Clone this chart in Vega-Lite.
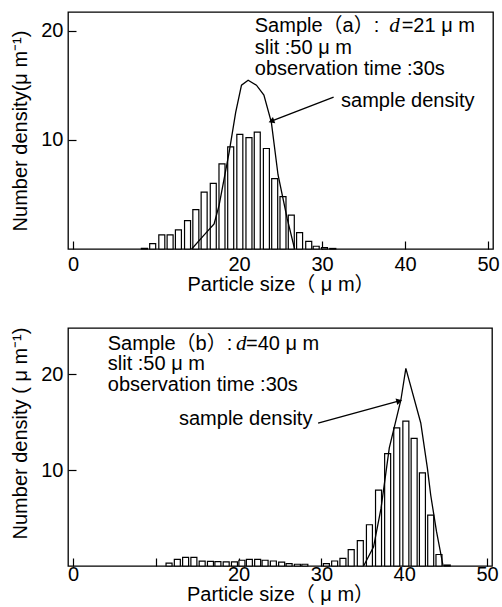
{
  "$schema": "https://vega.github.io/schema/vega-lite/v6.json",
  "padding": {"left": 10, "top": 11, "right": 0, "bottom": 0},
  "spacing": 31,
  "config": {
    "font": "Liberation Sans, Noto Sans CJK JP",
    "view": {"stroke": "black", "strokeWidth": 1.3},
    "axis": {
      "domain": false, "grid": false, "tickSize": -8, "tickColor": "black", "tickWidth": 1.2,
      "labelFontSize": 20, "titleFontSize": 20, "titleFontWeight": "normal",
      "labelColor": "black", "titleColor": "black", "labelFont": "Liberation Sans", "titleFont": "Liberation Sans, Noto Sans CJK JP"
    }
  },
  "datasets": {
    "barsA": [
      {"size": 8.6, "density": 0.06}, {"size": 9.6, "density": 0.5}, {"size": 10.7, "density": 1.3},
      {"size": 11.7, "density": 1.3}, {"size": 12.7, "density": 1.75}, {"size": 13.8, "density": 2.6},
      {"size": 14.8, "density": 3.6}, {"size": 15.8, "density": 5.2}, {"size": 16.9, "density": 6.0},
      {"size": 17.95, "density": 7.8}, {"size": 19.0, "density": 9.35}, {"size": 20.1, "density": 10.5},
      {"size": 21.2, "density": 10.2}, {"size": 22.2, "density": 10.7}, {"size": 23.3, "density": 9.2},
      {"size": 24.3, "density": 6.45}, {"size": 25.3, "density": 4.8}, {"size": 26.3, "density": 3.1},
      {"size": 27.3, "density": 1.5}, {"size": 28.4, "density": 0.7}, {"size": 29.3, "density": 0.25},
      {"size": 30.3, "density": 0.12}, {"size": 31.3, "density": 0.05}
    ],
    "lineA": [
      {"size": 14.3, "density": 0}, {"size": 15.7, "density": 1.2}, {"size": 17.0, "density": 2.3},
      {"size": 17.6, "density": 4.0}, {"size": 18.8, "density": 8.8}, {"size": 19.6, "density": 12.5},
      {"size": 20.3, "density": 15.0}, {"size": 21.1, "density": 15.45}, {"size": 22.1, "density": 15.0},
      {"size": 23.0, "density": 14.1}, {"size": 23.9, "density": 11.6}, {"size": 24.7, "density": 6.8},
      {"size": 25.8, "density": 2.8}, {"size": 26.7, "density": 0}
    ],
    "textA": [
      {"kind": "plain", "text": "Sample（a）:", "x": 21.9, "y": 19.9},
      {"kind": "var", "text": "d", "x": 38.1, "y": 19.9},
      {"kind": "plain", "text": "=21 μ m", "x": 39.6, "y": 19.9},
      {"kind": "plain", "text": "slit :50 μ m", "x": 21.9, "y": 17.9},
      {"kind": "plain", "text": "observation time :30s", "x": 21.9, "y": 15.9},
      {"kind": "plain", "text": "sample density", "x": 32.3, "y": 13.0}
    ],
    "arrowA": [{"x": 31.4, "y": 13.9, "x2": 23.9, "y2": 11.7}],
    "barsB": [
      {"size": 11.6, "density": 0.3}, {"size": 12.6, "density": 0.7}, {"size": 13.6, "density": 0.9},
      {"size": 14.6, "density": 0.9}, {"size": 15.6, "density": 0.5}, {"size": 16.6, "density": 0.48},
      {"size": 17.5, "density": 0.45}, {"size": 18.5, "density": 0.42}, {"size": 19.5, "density": 0.42},
      {"size": 20.4, "density": 0.6}, {"size": 21.3, "density": 0.68}, {"size": 22.3, "density": 0.7},
      {"size": 23.2, "density": 0.6}, {"size": 24.2, "density": 0.52}, {"size": 25.2, "density": 0.4},
      {"size": 26.1, "density": 0.25}, {"size": 27.1, "density": 0.18}, {"size": 28.0, "density": 0.18},
      {"size": 30.6, "density": 0.25}, {"size": 31.6, "density": 0.52}, {"size": 32.6, "density": 0.8},
      {"size": 33.6, "density": 1.7}, {"size": 34.7, "density": 2.65}, {"size": 35.8, "density": 4.3},
      {"size": 36.9, "density": 7.9}, {"size": 38.0, "density": 11.7}, {"size": 39.1, "density": 14.4},
      {"size": 40.2, "density": 15.1}, {"size": 41.2, "density": 13.3}, {"size": 42.2, "density": 9.7},
      {"size": 43.2, "density": 5.3}, {"size": 44.2, "density": 1.2}, {"size": 45.2, "density": 0.1}
    ],
    "lineB": [
      {"size": 35.1, "density": 0}, {"size": 36.3, "density": 2.0}, {"size": 37.2, "density": 6.0},
      {"size": 38.2, "density": 12.3}, {"size": 39.6, "density": 17.3}, {"size": 40.2, "density": 20.6},
      {"size": 42.0, "density": 14.9}, {"size": 42.8, "density": 10.2}, {"size": 43.2, "density": 7.4},
      {"size": 43.9, "density": 3.6}, {"size": 44.7, "density": 0}
    ],
    "textB": [
      {"kind": "plain", "text": "Sample（b）:", "x": 4.2, "y": 22.5},
      {"kind": "var", "text": "d", "x": 19.7, "y": 22.5},
      {"kind": "plain", "text": "=40 μ m", "x": 20.9, "y": 22.5},
      {"kind": "plain", "text": "slit :50 μ m", "x": 4.2, "y": 20.4},
      {"kind": "plain", "text": "observation time :30s", "x": 4.2, "y": 18.25},
      {"kind": "plain", "text": "sample density", "x": 12.8, "y": 14.7}
    ],
    "arrowB": [{"x": 29.6, "y": 14.9, "x2": 39.4, "y2": 17.2}]
  },
  "vconcat": [
    {
      "width": 425,
      "height": 237,
      "encoding": {
        "x": {"type": "quantitative", "scale": {"domain": [0, 50], "nice": false},
              "axis": {"title": "Particle size（ μ m）", "values": [0, 20, 30, 40, 50], "labelPadding": 13, "titlePadding": 0, "labelFlush": false}},
        "y": {"type": "quantitative", "scale": {"domain": [0, 21.7], "nice": false},
              "axis": {"title": "Number density(μ m⁻¹)", "values": [10, 20], "labelPadding": 13, "titlePadding": 10}}
      },
      "layer": [
        {"data": {"name": "barsA"}, "mark": {"type": "bar", "orient": "vertical", "width": 6, "fill": "white", "stroke": "black", "strokeWidth": 1.2},
         "encoding": {"x": {"field": "size"}, "y": {"field": "density"}}},
        {"data": {"name": "lineA"}, "mark": {"type": "line", "color": "black", "strokeWidth": 1.3},
         "encoding": {"x": {"field": "size"}, "y": {"field": "density"}}},
        {"data": {"name": "textA"}, "transform": [{"filter": "datum.kind === 'plain'"}],
         "mark": {"type": "text", "align": "left", "baseline": "alphabetic", "fontSize": 20, "color": "black"},
         "encoding": {"x": {"field": "x"}, "y": {"field": "y"}, "text": {"field": "text"}}},
        {"data": {"name": "textA"}, "transform": [{"filter": "datum.kind === 'var'"}],
         "mark": {"type": "text", "align": "left", "baseline": "alphabetic", "fontSize": 21, "font": "Liberation Serif", "fontStyle": "italic", "color": "black"},
         "encoding": {"x": {"field": "x"}, "y": {"field": "y"}, "text": {"field": "text"}}},
        {"data": {"name": "arrowA"}, "mark": {"type": "rule", "color": "black", "strokeWidth": 1.3},
         "encoding": {"x": {"field": "x"}, "y": {"field": "y"}, "x2": {"field": "x2"}, "y2": {"field": "y2"}}},
        {"data": {"name": "arrowA"}, "mark": {"type": "point", "shape": "triangle-right", "filled": true, "color": "black", "opacity": 1, "size": 45, "angle": 159.4},
         "encoding": {"x": {"field": "x2"}, "y": {"field": "y2"}}}
      ]
    },
    {
      "width": 424,
      "height": 238,
      "encoding": {
        "x": {"type": "quantitative", "scale": {"domain": [0, 50], "nice": false},
              "axis": {"title": "Particle size（ μ m）", "values": [0, 10, 20, 30, 40, 50], "labelExpr": "datum.value == 10 ? '' : datum.label", "labelPadding": 6, "titlePadding": 0, "labelFlush": false}},
        "y": {"type": "quantitative", "scale": {"domain": [0, 24.8], "nice": false},
              "axis": {"title": "Number density ( μ m⁻¹)", "values": [10, 20], "labelPadding": 13, "titlePadding": 10, "titleY": 105}}
      },
      "layer": [
        {"data": {"name": "barsB"}, "mark": {"type": "bar", "orient": "vertical", "width": 6, "fill": "white", "stroke": "black", "strokeWidth": 1.2},
         "encoding": {"x": {"field": "size"}, "y": {"field": "density"}}},
        {"data": {"name": "lineB"}, "mark": {"type": "line", "color": "black", "strokeWidth": 1.3},
         "encoding": {"x": {"field": "size"}, "y": {"field": "density"}}},
        {"data": {"name": "textB"}, "transform": [{"filter": "datum.kind === 'plain'"}],
         "mark": {"type": "text", "align": "left", "baseline": "alphabetic", "fontSize": 20, "color": "black"},
         "encoding": {"x": {"field": "x"}, "y": {"field": "y"}, "text": {"field": "text"}}},
        {"data": {"name": "textB"}, "transform": [{"filter": "datum.kind === 'var'"}],
         "mark": {"type": "text", "align": "left", "baseline": "alphabetic", "fontSize": 21, "font": "Liberation Serif", "fontStyle": "italic", "color": "black"},
         "encoding": {"x": {"field": "x"}, "y": {"field": "y"}, "text": {"field": "text"}}},
        {"data": {"name": "arrowB"}, "mark": {"type": "rule", "color": "black", "strokeWidth": 1.3},
         "encoding": {"x": {"field": "x"}, "y": {"field": "y"}, "x2": {"field": "x2"}, "y2": {"field": "y2"}}},
        {"data": {"name": "arrowB"}, "mark": {"type": "point", "shape": "triangle-right", "filled": true, "color": "black", "opacity": 1, "size": 45, "angle": 345},
         "encoding": {"x": {"field": "x2"}, "y": {"field": "y2"}}}
      ]
    }
  ]
}
